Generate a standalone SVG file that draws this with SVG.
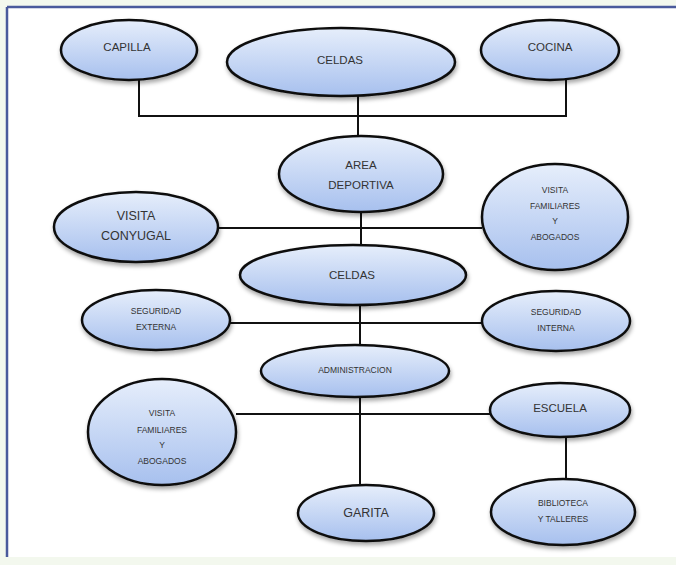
<svg xmlns="http://www.w3.org/2000/svg" width="676" height="565" viewBox="0 0 676 565">
<defs>
<linearGradient id="g" x1="0" y1="0" x2="0" y2="1">
<stop offset="0" stop-color="#e6eefb"/>
<stop offset="1" stop-color="#a7c0ee"/>
</linearGradient>
<filter id="sh" x="-20%" y="-20%" width="140%" height="150%">
<feDropShadow dx="1" dy="3" stdDeviation="2" flood-color="#000" flood-opacity="0.35"/>
</filter>
<style>
.n ellipse{fill:url(#g);stroke:#111;stroke-width:2.5;filter:url(#sh)}
.n text{font-family:"Liberation Sans",Arial,sans-serif;fill:#333;text-anchor:middle;dominant-baseline:middle}
.c line{stroke:#111;stroke-width:2}
.s{font-size:8.5px}
.m{font-size:11.5px}
.l{font-size:12.5px}
</style>
</defs>
<rect x="0" y="0" width="676" height="565" fill="#f3f8ee"/>
<rect x="7" y="7" width="675" height="550" fill="#ffffff"/>
<line x1="7" y1="7" x2="676" y2="7" stroke="#4a5a9c" stroke-width="2.5"/>
<line x1="7" y1="7" x2="7" y2="557" stroke="#4a5a9c" stroke-width="2.5"/>
<g id="connectors" class="c">
<line x1="139" y1="80" x2="139" y2="116"/>
<line x1="566" y1="80" x2="566" y2="116"/>
<line x1="138" y1="116" x2="567" y2="116"/>
<line x1="358" y1="95" x2="358" y2="137"/>
<line x1="217" y1="228" x2="482" y2="228"/>
<line x1="361" y1="211" x2="361" y2="246"/>
<line x1="230" y1="323" x2="482" y2="323"/>
<line x1="360" y1="304" x2="360" y2="346"/>
<line x1="236" y1="414" x2="490" y2="414"/>
<line x1="360" y1="397" x2="360" y2="486"/>
<line x1="566" y1="436" x2="566" y2="480"/>
</g>
<g id="capilla" class="n"><ellipse cx="129" cy="50" rx="68" ry="30"/><text class="m" x="127" y="48">CAPILLA</text></g>
<g id="celdas1" class="n"><ellipse cx="341" cy="62" rx="114" ry="34"/><text class="m" x="340" y="61">CELDAS</text></g>
<g id="cocina" class="n"><ellipse cx="550" cy="50" rx="69" ry="30"/><text class="m" x="550" y="48">COCINA</text></g>
<g id="area" class="n"><ellipse cx="361" cy="174" rx="82" ry="38"/><text class="m" x="361" y="166">AREA</text><text class="m" x="361" y="186">DEPORTIVA</text></g>
<g id="conyugal" class="n"><ellipse cx="136" cy="227" rx="82" ry="35"/><text class="l" x="136" y="217">VISITA</text><text class="l" x="136" y="237">CONYUGAL</text></g>
<g id="visita1" class="n"><ellipse cx="555" cy="217" rx="73" ry="53"/><text class="s" x="555" y="191">VISITA</text><text class="s" x="555" y="207">FAMILIARES</text><text class="s" x="555" y="222">Y</text><text class="s" x="555" y="238">ABOGADOS</text></g>
<g id="celdas2" class="n"><ellipse cx="353" cy="275" rx="113" ry="30"/><text class="m" x="352" y="276">CELDAS</text></g>
<g id="segext" class="n"><ellipse cx="156" cy="320" rx="74" ry="30"/><text class="s" x="156" y="312">SEGURIDAD</text><text class="s" x="156" y="328">EXTERNA</text></g>
<g id="segint" class="n"><ellipse cx="556" cy="321" rx="74" ry="30"/><text class="s" x="556" y="313">SEGURIDAD</text><text class="s" x="556" y="329">INTERNA</text></g>
<g id="admin" class="n"><ellipse cx="355" cy="371" rx="94" ry="26"/><text class="s" x="355" y="371">ADMINISTRACION</text></g>
<g id="visita2" class="n"><ellipse cx="162" cy="432" rx="74" ry="53"/><text class="s" x="162" y="414">VISITA</text><text class="s" x="162" y="431">FAMILIARES</text><text class="s" x="162" y="446">Y</text><text class="s" x="162" y="462">ABOGADOS</text></g>
<g id="escuela" class="n"><ellipse cx="560" cy="410" rx="70" ry="27"/><text class="m" x="560" y="409">ESCUELA</text></g>
<g id="garita" class="n"><ellipse cx="366" cy="513" rx="68" ry="28"/><text class="l" x="366" y="514">GARITA</text></g>
<g id="biblioteca" class="n"><ellipse cx="563" cy="512" rx="72" ry="33"/><text class="s" x="563" y="504">BIBLIOTECA</text><text class="s" x="563" y="520">Y TALLERES</text></g>
</svg>
